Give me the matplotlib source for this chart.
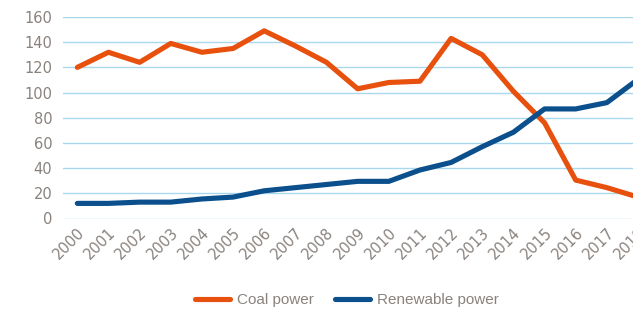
import matplotlib
matplotlib.use("Agg")
import matplotlib.pyplot as plt
import matplotlib.transforms as mtransforms

years = [str(y) for y in range(2000, 2019)]
coal = [120, 132, 124, 139, 132, 135, 149, 137, 124, 103, 108, 109, 143, 130, 101, 76, 30.5, 24.5, 17]
renewable = [12, 12, 13, 13, 15.5, 17, 22, 24.5, 27, 29.5, 29.5, 38.5, 44.5, 57, 68.5, 87, 87, 92, 110.5]
yticks = [0, 20, 40, 60, 80, 100, 120, 140, 160]

plt.rcParams['font.family'] = ['DejaVu Sans']
TICK_C = '#8A827D'

W, H = 633, 311
fig = plt.figure(figsize=(W/100, H/100), dpi=100)
left_px, right_px = 63.3, 652.0
top_px, bot_px = 17.0, 218.5
ax = fig.add_axes([left_px/W, 1 - bot_px/H, (right_px-left_px)/W, (bot_px-top_px)/H])

x = list(range(len(years)))
ax.plot(x, coal, color='#E8500E', lw=3.7, solid_capstyle='round', solid_joinstyle='round',
        label='Coal power', zorder=3)
ax.plot(x, renewable, color='#0B4F8C', lw=3.7, solid_capstyle='round', solid_joinstyle='round',
        label='Renewable power', zorder=3)

ax.set_xlim(-0.45, len(years) - 1 + 0.45)
ax.set_ylim(0, 160)
ax.set_yticks(yticks)
ax.set_xticks(x)
ax.set_xticklabels(years, rotation=45, ha='right', va='center', rotation_mode='anchor')
ax.grid(axis='y', color='#A9D8EC', lw=1.0, zorder=0)
ax.set_axisbelow(True)
for s in ax.spines.values():
    s.set_visible(False)
ax.tick_params(axis='both', length=0, colors=TICK_C, labelsize=10.5)
ax.tick_params(axis='y', pad=8)
ax.tick_params(axis='x', pad=8.6)
off = mtransforms.ScaledTranslation(5/100, 0, fig.dpi_scale_trans)
for lab in ax.get_xticklabels():
    lab.set_transform(lab.get_transform() + off)

leg = fig.legend(loc='center', bbox_to_anchor=(347/W, 1 - 300/H), ncol=2, frameon=False,
                 prop={'family': 'Liberation Sans', 'size': 11}, labelcolor=TICK_C,
                 handlelength=2.3, columnspacing=1.37, handletextpad=0.45)
for h in leg.legend_handles:
    h.set_solid_capstyle('round')

fig.savefig('out.png', dpi=100)
